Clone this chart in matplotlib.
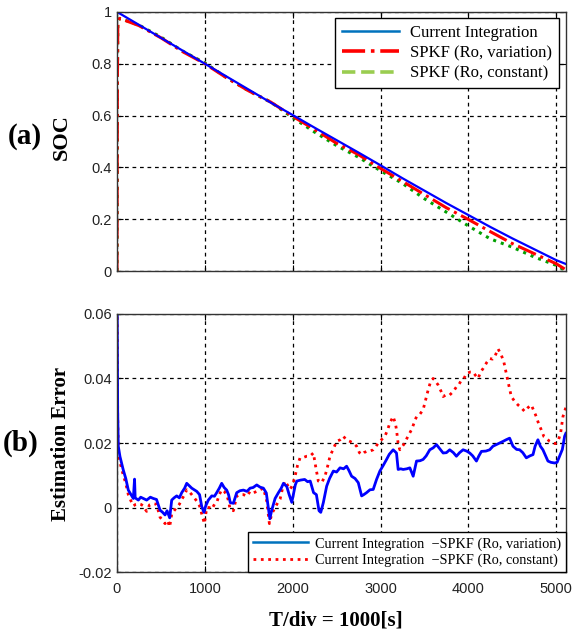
import numpy as np
import matplotlib
matplotlib.use("Agg")
import matplotlib.pyplot as plt
from matplotlib.lines import Line2D
from matplotlib.ticker import FormatStrFormatter

plt.rcParams['font.family'] = ['Liberation Sans', 'DejaVu Sans']

# ---- (a) SOC curves ----
soc_t = [0, 5, 10, 30, 250, 500, 750, 1000, 1250, 1500, 1750, 2000, 2250, 2500,
         2750, 3000, 3250, 3500, 3750, 4000, 4250, 4500, 4750, 5000, 5110]
soc_ci = [1.0, 0.999, 0.998, 0.994, 0.95, 0.90, 0.85, 0.80, 0.75, 0.70, 0.65, 0.602,
          0.553, 0.505, 0.457, 0.408, 0.358, 0.310, 0.262, 0.216, 0.170, 0.126, 0.084,
          0.042, 0.027]
soc_var = [0.0, 0.74, 0.96, 0.975, 0.947, 0.90, 0.846, 0.80, 0.745, 0.695, 0.652, 0.597,
           0.546, 0.493, 0.449, 0.396, 0.346, 0.295, 0.244, 0.199, 0.152, 0.106, 0.067,
           0.028, 0.005]
soc_const = [0.0, 0.74, 0.96, 0.975, 0.949, 0.903, 0.848, 0.803, 0.746, 0.695, 0.652,
             0.592, 0.536, 0.484, 0.439, 0.387, 0.338, 0.279, 0.227, 0.174, 0.124, 0.092,
             0.054, 0.022, 0.0]

# ---- (b) estimation error: Current Integration - SPKF ----
var_t = [0, 8, 15, 34, 72, 100, 129, 160, 186, 200, 207, 243, 270, 300, 338, 380, 414,
         450, 490, 520, 547, 570, 600, 623, 650, 680, 710, 737, 770, 794, 820, 851, 880,
         908, 940, 965, 990, 1010, 1040, 1079, 1110, 1135, 1165, 1192, 1220, 1249, 1270,
         1290, 1325, 1363, 1400, 1439, 1480, 1515, 1550, 1591, 1630, 1667, 1700, 1720,
         1740, 1762, 1800, 1838, 1870, 1895, 1933, 1960, 1990, 2030, 2047, 2090, 2137,
         2170, 2200, 2238, 2270, 2300, 2320, 2349, 2387, 2420, 2463, 2500, 2539, 2580,
         2614, 2640, 2671, 2710, 2747, 2785, 2810, 2841, 2880, 2917, 2955, 2993, 3030,
         3069, 3100, 3144, 3182, 3201, 3230, 3258, 3300, 3334, 3372, 3410, 3450, 3485,
         3520, 3561, 3600, 3637, 3680, 3713, 3750, 3788, 3830, 3864, 3900, 3940, 3980,
         4016, 4050, 4092, 4120, 4149, 4200, 4243, 4280, 4319, 4360, 4395, 4430, 4470,
         4508, 4550, 4584, 4620, 4660, 4700, 4736, 4760, 4792, 4820, 4849, 4880, 4906,
         4940, 4982, 5010, 5039, 5070, 5096, 5110]
var_e = [0.075, 0.03, 0.019, 0.0158, 0.0116, 0.009, 0.0054, 0.004, 0.0028, 0.0088, 0.003,
         0.0023, 0.0032, 0.0028, 0.0023, 0.0032, 0.0028, 0.0025, -0.0008, -0.0015, -0.0023,
         -0.001, -0.0032, 0.0023, 0.003, 0.0036, 0.003, 0.0046, 0.006, 0.0075, 0.0068,
         0.006, 0.0055, 0.005, 0.004, 0.0003, -0.0015, 0.0005, 0.0023, 0.0036, 0.0035,
         0.0046, 0.006, 0.0075, 0.0062, 0.0054, 0.004, 0.0015, 0.0013, 0.0046, 0.0052,
         0.0054, 0.005, 0.006, 0.0062, 0.007, 0.0063, 0.006, 0.0045, 0.0005, -0.0035,
         -0.0008, 0.0028, 0.0046, 0.006, 0.0075, 0.0065, 0.004, 0.0016, 0.007, 0.0082,
         0.0085, 0.0087, 0.008, 0.0082, 0.0046, 0.004, -0.001, -0.0015, 0.0015, 0.0066,
         0.009, 0.0113, 0.011, 0.0123, 0.012, 0.0128, 0.0115, 0.0097, 0.009, 0.0077,
         0.0036, 0.004, 0.0046, 0.0055, 0.0056, 0.0087, 0.0113, 0.013, 0.0149, 0.0165,
         0.0179, 0.0169, 0.0118, 0.012, 0.0118, 0.012, 0.0123, 0.0097, 0.0144, 0.0145,
         0.0149, 0.016, 0.0179, 0.0185, 0.0195, 0.018, 0.0169, 0.017, 0.0179, 0.017,
         0.0159, 0.017, 0.0179, 0.0175, 0.0169, 0.016, 0.0144, 0.016, 0.0174, 0.0175,
         0.0179, 0.019, 0.0195, 0.02, 0.0205, 0.021, 0.0215, 0.019, 0.018, 0.0179, 0.017,
         0.0154, 0.016, 0.0164, 0.019, 0.021, 0.019, 0.0179, 0.016, 0.0144, 0.014, 0.0138,
         0.014, 0.0159, 0.018, 0.0221, 0.023]

const_t = [0, 8, 15, 34, 72, 100, 129, 160, 186, 215, 243, 270, 300, 320, 338, 370, 414,
           450, 490, 520, 547, 575, 600, 623, 650, 680, 710, 737, 770, 794, 820, 851, 880,
           908, 940, 965, 995, 1022, 1050, 1079, 1110, 1135, 1165, 1192, 1220, 1249, 1270,
           1287, 1325, 1363, 1400, 1439, 1480, 1515, 1550, 1591, 1630, 1667, 1705, 1735,
           1762, 1800, 1830, 1857, 1885, 1914, 1940, 1970, 2000, 2027, 2055, 2084, 2120,
           2160, 2200, 2236, 2260, 2292, 2330, 2368, 2400, 2425, 2460, 2501, 2540, 2577,
           2610, 2652, 2690, 2728, 2760, 2785, 2810, 2841, 2880, 2917, 2950, 2974, 3010,
           3050, 3080, 3106, 3144, 3170, 3182, 3200, 3220, 3250, 3277, 3310, 3353, 3380,
           3410, 3450, 3485, 3510, 3542, 3570, 3599, 3630, 3656, 3690, 3713, 3750, 3788,
           3830, 3864, 3890, 3921, 3950, 3978, 4020, 4054, 4080, 4111, 4140, 4168, 4210,
           4243, 4275, 4300, 4320, 4338, 4360, 4376, 4405, 4432, 4460, 4489, 4525, 4565,
           4600, 4641, 4680, 4717, 4745, 4773, 4800, 4830, 4860, 4887, 4925, 4963, 4990,
           5020, 5050, 5077, 5110]
const_e = [0.075, 0.028, 0.017, 0.014, 0.010, 0.0075, 0.004, 0.002, 0.0005, 0.001,
           0.0012, 0.001, 0.0005, -0.0005, -0.0012, 0.0008, 0.0012, 0.001, -0.003, -0.004,
           -0.005, -0.004, -0.006, -0.002, -0.001, 0.0, 0.001, 0.0025, 0.004, 0.0055, 0.005,
           0.004, 0.003, 0.002, 0.0005, -0.002, -0.005, 0.0, 0.0, -0.0005, 0.001, 0.0015,
           0.004, 0.0055, 0.005, 0.004, 0.002, -0.0005, -0.001, 0.0035, 0.004, 0.004,
           0.0035, 0.005, 0.0045, 0.005, 0.0055, 0.006, 0.002, -0.005, -0.002, 0.0, 0.0015,
           0.0026, 0.006, 0.0082, 0.007, 0.0056, 0.007, 0.0097, 0.013, 0.0154, 0.0155,
           0.0159, 0.016, 0.0169, 0.013, 0.0082, 0.0077, 0.0097, 0.013, 0.0159, 0.018,
           0.0205, 0.021, 0.0221, 0.021, 0.0205, 0.02, 0.019, 0.017, 0.0164, 0.017, 0.0174,
           0.0175, 0.0179, 0.019, 0.02, 0.021, 0.0221, 0.024, 0.0262, 0.0282, 0.026, 0.0241,
           0.02, 0.0179, 0.019, 0.02, 0.022, 0.0241, 0.026, 0.0282, 0.029, 0.0303, 0.033,
           0.0364, 0.039, 0.04, 0.039, 0.038, 0.036, 0.0344, 0.035, 0.0349, 0.036, 0.0374,
           0.038, 0.0395, 0.040, 0.0415, 0.042, 0.042, 0.041, 0.04, 0.042, 0.0431, 0.045,
           0.0462, 0.046, 0.0467, 0.048, 0.0492, 0.048, 0.0472, 0.045, 0.0415, 0.038,
           0.0344, 0.033, 0.0318, 0.031, 0.0298, 0.031, 0.0318, 0.030, 0.0282, 0.026,
           0.0241, 0.022, 0.0215, 0.0205, 0.02, 0.0198, 0.0205, 0.023, 0.0282, 0.031]

x_ticks = [0, 1000, 2000, 3000, 4000, 5000]
soc_ticks = [0, 0.2, 0.4, 0.6, 0.8, 1.0]
err_ticks = [-0.02, 0, 0.02, 0.04, 0.06]

serif = ['Liberation Serif', 'DejaVu Serif']
legend_blue = '#0072BD'


def style_axes(ax):
    ax.grid(True, color='black', linestyle=(0, (3, 3)), linewidth=0.9)
    ax.tick_params(direction='in', top=True, right=True, length=4,
                   labelsize=10.5, labelcolor='#222222')
    ax.tick_params(axis='x', pad=7)
    for s in ax.spines.values():
        s.set_linewidth(1.0)
        s.set_color('#333333')


fig = plt.figure(figsize=(5.74, 6.32), dpi=100)
ax1 = fig.add_axes([0.2038, 0.5712, 0.782, 0.41])
ax2 = fig.add_axes([0.2038, 0.0949, 0.782, 0.4083])

# top: SOC
ax1.plot(soc_t, soc_const, color='#00a000', linestyle=':', linewidth=2.2)
ax1.plot(soc_t, soc_var, color='red', linestyle='-.', linewidth=2.2)
ax1.plot(soc_t, soc_ci, color='blue', linewidth=1.6)
ax1.set_xlim(0, 5110)
ax1.set_ylim(0, 1)
ax1.set_xticks(x_ticks)
ax1.set_yticks(soc_ticks)
ax1.yaxis.set_major_formatter(FormatStrFormatter('%g'))
style_axes(ax1)
ax1.tick_params(labelbottom=False)

h1 = [Line2D([], [], color=legend_blue, linewidth=1.8),
      Line2D([], [], color='red', linestyle='-.', linewidth=2.6),
      Line2D([], [], color='#9acd50', linestyle='--', linewidth=2.6)]
leg1 = ax1.legend(h1, ['Current Integration', 'SPKF (Ro, variation)', 'SPKF (Ro, constant)'],
                  loc='upper right', bbox_to_anchor=(0.985, 0.975), borderaxespad=0,
                  prop={'family': serif, 'size': 12}, fancybox=False, framealpha=1,
                  edgecolor='black', handlelength=3.4, labelspacing=0.25,
                  borderpad=0.4, handletextpad=0.7)
leg1.get_frame().set_linewidth(1.0)

# bottom: estimation error
ax2.plot(const_t, const_e, color='red', linestyle=':', linewidth=2.0)
ax2.plot(var_t, var_e, color='blue', linewidth=2.0)
ax2.set_xlim(0, 5110)
ax2.set_ylim(-0.02, 0.06)
ax2.set_xticks(x_ticks)
ax2.set_yticks(err_ticks)
ax2.yaxis.set_major_formatter(FormatStrFormatter('%g'))
style_axes(ax2)

h2 = [Line2D([], [], color=legend_blue, linewidth=1.8),
      Line2D([], [], color='red', linestyle=':', linewidth=2.0)]
leg2 = ax2.legend(h2, ['Current Integration  \u2212SPKF (Ro, variation)',
                       'Current Integration  \u2212SPKF (Ro, constant)'],
                  loc='lower right', bbox_to_anchor=(1.0, 0.0), borderaxespad=0,
                  prop={'family': serif, 'size': 10.3}, fancybox=False, framealpha=1,
                  edgecolor='black', handlelength=3.8, labelspacing=0.2,
                  borderpad=0.35, handletextpad=0.5)
leg2.get_frame().set_linewidth(1.0)

# labels
fig.text(25 / 574, 1 - 137 / 632, '(a)', family=serif, weight='bold', fontsize=21,
         ha='center', va='center')
fig.text(62 / 574, 1 - 137 / 632, 'SOC', family=serif, weight='bold', fontsize=16,
         rotation=90, ha='center', va='center')
fig.text(21 / 574, 1 - 443 / 632, '(b)', family=serif, weight='bold', fontsize=21,
         ha='center', va='center')
fig.text(61 / 574, 1 - 444 / 632, 'Estimation Error', family=serif, weight='bold',
         fontsize=15, rotation=90, ha='center', va='center')
fig.text(336 / 574, 1 - 620 / 632, 'T/div = 1000[s]', family=serif, weight='bold',
         fontsize=15, ha='center', va='center')

fig.savefig('out.png', dpi=100)
